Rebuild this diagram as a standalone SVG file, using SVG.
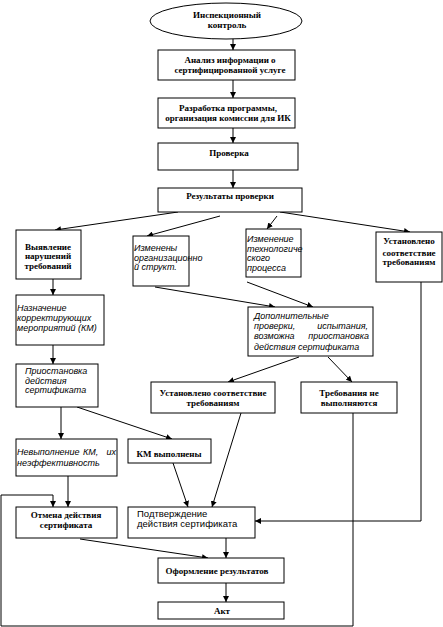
<svg xmlns="http://www.w3.org/2000/svg" width="443" height="627" viewBox="0 0 443 627">
<style>
.box{fill:#fff;stroke:#000;stroke-width:1}
.b{font-family:"Liberation Serif","Times New Roman",serif;font-weight:bold;font-size:9px;fill:#000;text-anchor:middle}
.i{font-family:"Liberation Sans",Arial,sans-serif;font-style:italic;font-size:9px;fill:#000}
.r{font-family:"Liberation Sans",Arial,sans-serif;font-size:9.5px;fill:#000}
.c line,.c polyline{stroke:#000;stroke-width:1;fill:none;marker-end:url(#ah)}
.c .n{marker-end:none}
</style>
<defs>
<marker id="ah" viewBox="0 0 6 6" refX="6" refY="3" markerWidth="6" markerHeight="6" markerUnits="userSpaceOnUse" orient="auto">
<path d="M0,0 L6,3 L0,6 Z" fill="#000"/>
</marker>
</defs>
<rect width="443" height="627" fill="#fff"/>
<g id="connectors" class="c">
<line x1="233" y1="38" x2="233" y2="50"/>
<line x1="233" y1="80" x2="233" y2="98"/>
<line x1="233" y1="128" x2="233" y2="143"/>
<line x1="233" y1="170" x2="233" y2="188"/>
<line x1="178" y1="212" x2="55" y2="230"/>
<line x1="220" y1="216" x2="147" y2="236"/>
<line x1="277" y1="216" x2="267" y2="229"/>
<line x1="280" y1="212" x2="410" y2="232"/>
<line x1="53" y1="279" x2="53" y2="295"/>
<line x1="155" y1="287" x2="275" y2="307"/>
<line x1="247" y1="282" x2="313" y2="307"/>
<line x1="53" y1="345" x2="53" y2="364"/>
<line x1="299" y1="357" x2="228" y2="382"/>
<line x1="328" y1="357" x2="352" y2="382"/>
<line x1="61" y1="407" x2="61" y2="439"/>
<line x1="77" y1="407" x2="172" y2="439"/>
<line x1="241" y1="413" x2="212" y2="507"/>
<line x1="173" y1="463" x2="188" y2="507"/>
<polyline points="421,282 421,521 255,521"/>
<line x1="68" y1="476" x2="68" y2="507"/>
<polyline points="353,413 353,626 1,626 1,495 53,495 53,507"/>
<line x1="80" y1="539" x2="208" y2="558"/>
<line x1="226" y1="538" x2="226" y2="558"/>
<line x1="226" y1="583" x2="226" y2="602"/>
</g>
<g id="n1"><ellipse class="box" cx="226" cy="21" rx="76" ry="18"/><text class="b" x="227" y="18">Инспекционный</text><text class="b" x="227" y="28">контроль</text></g>
<g id="n2"><rect class="box" x="158" y="50" width="137" height="30"/><text class="b" x="230" y="63">Анализ информации о</text><text class="b" x="230" y="73">сертифицированной услуге</text></g>
<g id="n3"><rect class="box" x="158" y="98" width="137" height="30"/><text class="b" x="228" y="111">Разработка программы,</text><text class="b" x="228" y="121">организация комиссии для ИК</text></g>
<g id="n4"><rect class="box" x="158" y="143" width="140" height="27"/><text class="b" x="229" y="156">Проверка</text></g>
<g id="n5"><rect class="box" x="158" y="188" width="144" height="24"/><text class="b" x="230" y="199">Результаты проверки</text></g>
<g id="n6"><rect class="box" x="16" y="230" width="65" height="49"/><text class="b" x="48" y="250">Выявление</text><text class="b" x="48" y="259">нарушений</text><text class="b" x="48" y="269">требований</text></g>
<g id="n7"><rect class="box" x="133" y="236" width="56" height="50"/><text class="i" x="134" y="251">Изменены</text><text class="i" x="134" y="261">организационно</text><text class="i" x="134" y="270">й структ.</text></g>
<g id="n8"><rect class="box" x="246" y="229" width="55" height="48"/><text class="i" x="247" y="242">Изменение</text><text class="i" x="247" y="252">технологиче</text><text class="i" x="247" y="261">ского</text><text class="i" x="247" y="271">процесса</text></g>
<g id="n9"><rect class="box" x="376" y="232" width="66" height="50"/><text class="b" x="409" y="244">Установлено</text><text class="b" x="409" y="256">соответствие</text><text class="b" x="409" y="265">требованиям</text></g>
<g id="n10"><rect class="box" x="16" y="295" width="88" height="50"/><text class="i" x="17" y="311">Назначение</text><text class="i" x="17" y="321">корректирующих</text><text class="i" x="17" y="331">мероприятий (КМ)</text></g>
<g id="n11"><rect class="box" x="16" y="364" width="82" height="43"/><text class="i" x="25" y="374">Приостановка</text><text class="i" x="25" y="384">действия</text><text class="i" x="25" y="393">сертификата</text></g>
<g id="n12"><rect class="box" x="248" y="307" width="125" height="49"/><text class="i" x="254" y="319">Дополнительные</text><text class="i" x="254" y="329">проверки,</text><text class="i" x="368" y="329" text-anchor="end">испытания,</text><text class="i" x="254" y="339">возможна</text><text class="i" x="369" y="339" text-anchor="end">приостановка</text><text class="i" x="254" y="350">действия сертификата</text></g>
<g id="n13"><rect class="box" x="151" y="382" width="124" height="31"/><text class="b" x="213" y="396">Установлено соответствие</text><text class="b" x="213" y="406">требованиям</text></g>
<g id="n14"><rect class="box" x="301" y="382" width="96" height="31"/><text class="b" x="349" y="396">Требования не</text><text class="b" x="349" y="406">выполняются</text></g>
<g id="n15"><rect class="box" x="16" y="439" width="101" height="37"/><text class="i" x="17" y="455">Невыполнение</text><text class="i" x="83" y="455">КМ,</text><text class="i" x="116" y="455" text-anchor="end">их</text><text class="i" x="17" y="466">неэффективность</text></g>
<g id="n16"><rect class="box" x="128" y="439" width="83" height="24"/><text class="b" x="169" y="457">КМ выполнены</text></g>
<g id="n17"><rect class="box" x="16" y="507" width="101" height="31"/><text class="b" x="66" y="518">Отмена действия</text><text class="b" x="66" y="528">сертификата</text></g>
<g id="n18"><rect class="box" x="128" y="507" width="127" height="31"/><text class="r" x="137" y="517">Подтверждение</text><text class="r" x="137" y="527">действия сертификата</text></g>
<g id="n19"><rect class="box" x="158" y="558" width="126" height="25"/><text class="b" x="217" y="574">Оформление результатов</text></g>
<g id="n20"><rect class="box" x="158" y="602" width="126" height="17"/><text class="b" x="222" y="614">Акт</text></g>
</svg>
